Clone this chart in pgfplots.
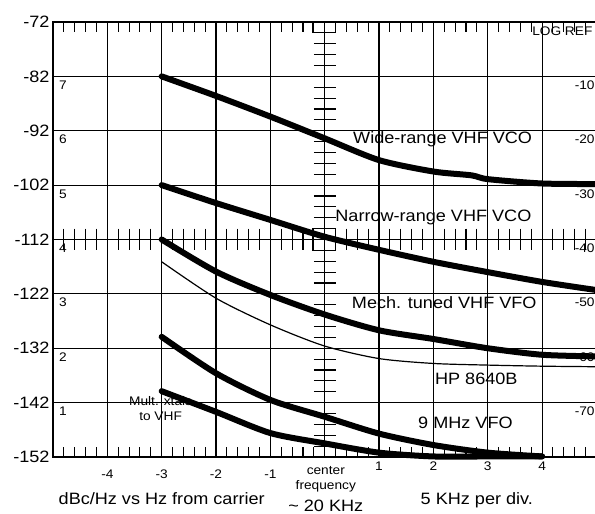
\documentclass[border=0pt]{standalone}
\usepackage{fontspec}
\setmainfont{Liberation Sans}[FakeStretch=1.1]
\usepackage{pgfplots}
\pgfplotsset{compat=1.18}
\usetikzlibrary{calc}

\newcommand\lab{\fontsize{16.5}{18}\selectfont}
\newcommand\sml{\fontsize{12.5}{15}\selectfont}
\newcommand\lo[1]{\raisebox{-8bp}{#1}}

\begin{document}
\begin{tikzpicture}
\begin{axis}[
    width=543.4bp, height=435bp, scale only axis,
    xmin=-5, xmax=5, ymin=-152, ymax=-72,
    xtick={-5,...,5},
    xticklabels={,\lo{-4},\lo{-3},\lo{-2},\lo{-1},,1,2,3,4,},
    minor x tick num=4,
    ytick={-152,-142,...,-72},
    grid=major,
    major grid style={black, line width=1.1bp},
    axis line style={black, line width=1.3bp},
    tick align=inside,
    xtick pos=both,
    xticklabel pos=bottom,
    major tick length=0pt,
    minor tick length=10bp,
    minor tick style={black, line width=1.1bp},
    ytick style={draw=none},
    clip=false,
    /pgf/number format/assume math mode=true,
    yticklabel style={font=\lab},
    xticklabel style={font=\sml, anchor=base, yshift=-14bp},
    every axis plot/.append style={smooth, tension=0.45},
]
\coordinate (bl) at (rel axis cs:0,0);
\coordinate (tr) at (rel axis cs:1,1);

% graticule marks
\pgfplotsinvokeforeach{-4.8,-4.6,...,4.81}{
  \draw[line width=1.1bp] (axis cs:#1,-110) -- (axis cs:#1,-114);
}
\pgfplotsinvokeforeach{-150,-148,...,-73}{
  \draw[line width=1.1bp] (axis cs:-0.2,#1) -- (axis cs:0.2,#1);
}
\draw[line width=1.1bp] (axis cs:-0.23,-72) rectangle (axis cs:0.2,-73.85);
\draw[line width=1.1bp] (axis cs:-0.22,-109.9) rectangle (axis cs:0.2,-114.1);

% curves
\addplot[black, line width=6bp, line cap=round] coordinates {
  (-3,-82) (-2,-85.6) (-1,-89.4) (0,-93.4) (1,-97.4) (2,-99.5) (2.7,-100.2) (3,-100.9) (4,-101.7) (5,-101.8)
};
\addplot[black, line width=6bp, line cap=round] coordinates {
  (-3,-102) (-2,-105.3) (-1,-108.4) (0,-111.5) (1,-113.9) (2,-116.1) (3,-118) (4,-119.8) (5,-121.3)
};
\addplot[black, line width=6bp, line cap=round] coordinates {
  (-3,-112) (-2,-117.9) (-1,-122.2) (0,-125.8) (1,-128.7) (2,-130.3) (3,-132) (4,-133.2) (5,-133.5)
};
\addplot[black, line width=1.2bp] coordinates {
  (-3,-116.1) (-2,-122.8) (-1,-127.7) (0,-131.6) (1,-133.9) (2,-134.8) (3,-135.1) (4,-135.3) (5,-135.4)
};
\addplot[black, line width=6bp, line cap=round] coordinates {
  (-3,-129.9) (-2,-136.6) (-1,-141.5) (0,-144.6) (1,-147.7) (2,-149.8) (3,-151.2) (4,-151.9)
};
\addplot[black, line width=6bp, line cap=round] coordinates {
  (-3,-139.9) (-2,-143.7) (-1,-147.6) (0,-149.5) (1,-151.2) (2,-151.9) (3,-151.9) (4,-151.9)
};

% curve labels
\node[font=\lab, anchor=base] at (axis cs:2.17,-94.4) {Wide-range VHF VCO};
\node[font=\lab, anchor=base] at (axis cs:2.0,-108.7) {Narrow-range VHF VCO};
\node[font=\lab, anchor=base] at (axis cs:2.2,-124.6) {Mech. tuned VHF VFO};
\node[font=\lab, anchor=base] at (axis cs:2.79,-138.7) {HP 8640B};
\node[font=\lab, anchor=base] at (axis cs:2.59,-146.7) {9 MHz VFO};
\node[font=\sml, anchor=base, align=center] at (axis cs:-3.02,-145.2) {Mult. xtals\\to VHF};

% graticule numbers
\node[font=\sml, anchor=base west, inner sep=0pt] at (axis cs:-4.89,-84.4) {7};
\node[font=\sml, anchor=base west, inner sep=0pt] at (axis cs:-4.89,-94.4) {6};
\node[font=\sml, anchor=base west, inner sep=0pt] at (axis cs:-4.89,-104.4) {5};
\node[font=\sml, anchor=base west, inner sep=0pt] at (axis cs:-4.89,-114.4) {4};
\node[font=\sml, anchor=base west, inner sep=0pt] at (axis cs:-4.89,-124.4) {3};
\node[font=\sml, anchor=base west, inner sep=0pt] at (axis cs:-4.89,-134.4) {2};
\node[font=\sml, anchor=base west, inner sep=0pt] at (axis cs:-4.89,-144.4) {1};
\node[font=\sml, anchor=base east, inner sep=0pt] at (axis cs:4.97,-84.4) {-10};
\node[font=\sml, anchor=base east, inner sep=0pt] at (axis cs:4.97,-94.4) {-20};
\node[font=\sml, anchor=base east, inner sep=0pt] at (axis cs:4.97,-104.4) {-30};
\node[font=\sml, anchor=base east, inner sep=0pt] at (axis cs:4.97,-114.4) {-40};
\node[font=\sml, anchor=base east, inner sep=0pt] at (axis cs:4.97,-124.4) {-50};
\node[font=\sml, anchor=base east, inner sep=0pt] at (axis cs:4.97,-134.4) {-60};
\node[font=\sml, anchor=base east, inner sep=0pt] at (axis cs:4.97,-144.4) {-70};
\node[font=\sml, anchor=base east, inner sep=0pt] at (axis cs:4.93,-74.4) {LOG REF};

% bottom captions
\node[font=\lab, anchor=base] at (axis cs:-3.0,-160.8) {dBc/Hz vs Hz from carrier};
\node[font=\lab, anchor=base] at (axis cs:2.8,-160.7) {5 KHz per div.};
\node[font=\sml, anchor=base] at (axis cs:0.02,-155.3) {center};
\node[font=\sml, anchor=base] at (axis cs:0.02,-157.9) {frequency};
\node[font=\lab, anchor=base] at (axis cs:0.02,-162.1) {\textasciitilde{} 20 KHz};
\end{axis}
\pgfresetboundingbox
\path ($(bl)+(-53bp,-57bp)$) rectangle ($(tr)+(-1.4bp,22bp)$);
\end{tikzpicture}
\end{document}
